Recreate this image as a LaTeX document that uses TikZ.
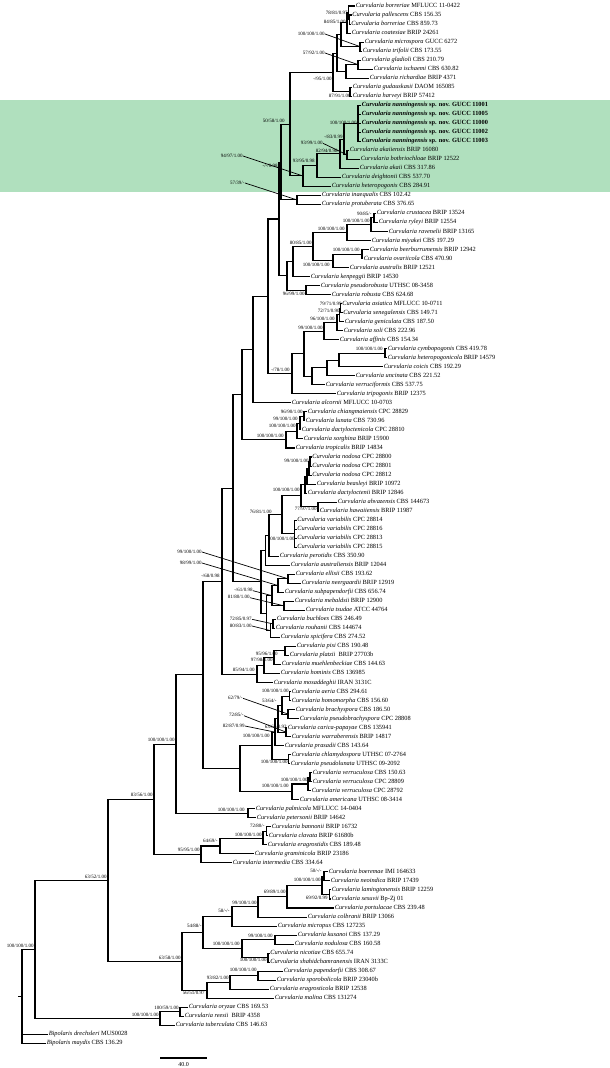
\documentclass[tikz,border=0pt]{standalone}
\usepackage{fontspec}
\setmainfont{Liberation Serif}
\usetikzlibrary{calc}
\definecolor{hl}{RGB}{176,224,190}
\tikzset{
 brl/.style={line width=1.05pt, line join=miter},
 leaf/.style={anchor=west, inner sep=0.6pt, font=\fontsize{6.35}{7}\selectfont, text height=4.3pt, text depth=1.3pt},
 sup/.style={anchor=east, inner sep=0.3pt, font=\fontsize{5}{6}\selectfont, text height=3.5pt, text depth=1pt},
 lead/.style={line width=0.7pt},
}
\newcommand\ty[1]{6+9.02*(#1-1)}
\newcommand\mk[4]{\path let \p1=(#3),\p2=(#4) in coordinate (#1) at (#2pt,{(\y1+\y2)/2});\draw[brl] (#3) -| (#1) |- (#4);}
\newcommand\cu[2]{\textit{Curvularia #1} #2}
\newcommand\nn[1]{\textbf{\textit{Curvularia nanningensis} sp. nov. GUCC #1}}
\begin{document}
\begin{tikzpicture}[x=1pt,y=-1pt]
\useasboundingbox (0,0) rectangle (610,1068);
\fill[hl] (0,100) rectangle (610,192);
% leaves
\node[leaf] (t1) at (355,{\ty{1}}) {\cu{borreriae}{MFLUCC 11-0422}};
\node[leaf] (t2) at (351.5,{\ty{2}}) {\cu{pallescens}{CBS 156.35}};
\node[leaf] (t3) at (350.5,{\ty{3}}) {\cu{borreriae}{CBS 859.73}};
\node[leaf] (t4) at (351,{\ty{4}}) {\cu{coatesiae}{BRIP 24261}};
\node[leaf] (t5) at (364,{\ty{5}}) {\cu{microspora}{GUCC 6272}};
\node[leaf] (t6) at (362,{\ty{6}}) {\cu{trifolii}{CBS 173.55}};
\node[leaf] (t7) at (361,{\ty{7}}) {\cu{gladioli}{CBS 210.79}};
\node[leaf] (t8) at (373,{\ty{8}}) {\cu{ischaemi}{CBS 630.82}};
\node[leaf] (t9) at (369,{\ty{9}}) {\cu{richardiae}{BRIP 4371}};
\node[leaf] (t10) at (352,{\ty{10}}) {\cu{gudauskasii}{DAOM 165085}};
\node[leaf] (t11) at (352,{\ty{11}}) {\cu{harveyi}{BRIP 57412}};
\node[leaf] (t12) at (361,{\ty{12}}) {\nn{11001}};
\node[leaf] (t13) at (361,{\ty{13}}) {\nn{11005}};
\node[leaf] (t14) at (361,{\ty{14}}) {\nn{11000}};
\node[leaf] (t15) at (361,{\ty{15}}) {\nn{11002}};
\node[leaf] (t16) at (361,{\ty{16}}) {\nn{11003}};
\node[leaf] (t17) at (349,{\ty{17}}) {\cu{akaiiensis}{BRIP 16080}};
\node[leaf] (t18) at (360,{\ty{18}}) {\cu{bothriochloae}{BRIP 12522}};
\node[leaf] (t19) at (359,{\ty{19}}) {\cu{akaii}{CBS 317.86}};
\node[leaf] (t20) at (341,{\ty{20}}) {\cu{deightonii}{CBS 537.70}};
\node[leaf] (t21) at (331,{\ty{21}}) {\cu{heteropogonis}{CBS 284.91}};
\node[leaf] (t22) at (321,{\ty{22}}) {\cu{inaequalis}{CBS 102.42}};
\node[leaf] (t23) at (321,{\ty{23}}) {\cu{protuberata}{CBS 376.65}};
\node[leaf] (t24) at (376,{\ty{24}}) {\cu{crustacea}{BRIP 13524}};
\node[leaf] (t25) at (378,{\ty{25}}) {\cu{ryleyi}{BRIP 12554}};
\node[leaf] (t26) at (388,{\ty{26}}) {\cu{ravenelii}{BRIP 13165}};
\node[leaf] (t27) at (371,{\ty{27}}) {\cu{miyakei}{CBS 197.29}};
\node[leaf] (t28) at (369,{\ty{28}}) {\cu{beerburrumensis}{BRIP 12942}};
\node[leaf] (t29) at (363,{\ty{29}}) {\cu{ovariicola}{CBS 470.90}};
\node[leaf] (t30) at (349,{\ty{30}}) {\cu{australis}{BRIP 12521}};
\node[leaf] (t31) at (310,{\ty{31}}) {\cu{kenpeggii}{BRIP 14530}};
\node[leaf] (t32) at (320,{\ty{32}}) {\cu{pseudorobusta}{UTHSC 08-3458}};
\node[leaf] (t33) at (331,{\ty{33}}) {\cu{robusta}{CBS 624.68}};
\node[leaf] (t34) at (341.5,{\ty{34}}) {\cu{asiatica}{MFLUCC 10-0711}};
\node[leaf] (t35) at (342.5,{\ty{35}}) {\cu{senegalensis}{CBS 149.71}};
\node[leaf] (t36) at (344,{\ty{36}}) {\cu{geniculata}{CBS 187.50}};
\node[leaf] (t37) at (343,{\ty{37}}) {\cu{soli}{CBS 222.96}};
\node[leaf] (t38) at (339,{\ty{38}}) {\cu{affinis}{CBS 154.34}};
\node[leaf] (t39) at (387,{\ty{39}}) {\cu{cymbopogonis}{CBS 419.78}};
\node[leaf] (t40) at (387,{\ty{40}}) {\cu{heteropogonicola}{BRIP 14579}};
\node[leaf] (t41) at (383,{\ty{41}}) {\cu{coicis}{CBS 192.29}};
\node[leaf] (t42) at (355,{\ty{42}}) {\cu{uncinata}{CBS 221.52}};
\node[leaf] (t43) at (325,{\ty{43}}) {\cu{verruciformis}{CBS 537.75}};
\node[leaf] (t44) at (336,{\ty{44}}) {\cu{tripogonis}{BRIP 12375}};
\node[leaf] (t45) at (291,{\ty{45}}) {\cu{alcornii}{MFLUCC 10-0703}};
\node[leaf] (t46) at (307,{\ty{46}}) {\cu{chiangmaiensis}{CPC 28829}};
\node[leaf] (t47) at (305,{\ty{47}}) {\cu{lunata}{CBS 730.96}};
\node[leaf] (t48) at (301,{\ty{48}}) {\cu{dactyloctenicola}{CPC 28810}};
\node[leaf] (t49) at (303,{\ty{49}}) {\cu{sorghina}{BRIP 15900}};
\node[leaf] (t50) at (295,{\ty{50}}) {\cu{tropicalis}{BRIP 14834}};
\node[leaf] (t51) at (311.5,{\ty{51}}) {\cu{nodosa}{CPC 28800}};
\node[leaf] (t52) at (311.5,{\ty{52}}) {\cu{nodosa}{CPC 28801}};
\node[leaf] (t53) at (311.5,{\ty{53}}) {\cu{nodosa}{CPC 28812}};
\node[leaf] (t54) at (316,{\ty{54}}) {\cu{beasleyi}{BRIP 10972}};
\node[leaf] (t55) at (307,{\ty{55}}) {\cu{dactyloctenii}{BRIP 12846}};
\node[leaf] (t56) at (337,{\ty{56}}) {\cu{ahvazensis}{CBS 144673}};
\node[leaf] (t57) at (319,{\ty{57}}) {\cu{hawaiiensis}{BRIP 11987}};
\node[leaf] (t58) at (296.5,{\ty{58}}) {\cu{variabilis}{CPC 28814}};
\node[leaf] (t59) at (296.5,{\ty{59}}) {\cu{variabilis}{CPC 28816}};
\node[leaf] (t60) at (296.5,{\ty{60}}) {\cu{variabilis}{CPC 28813}};
\node[leaf] (t61) at (296.5,{\ty{61}}) {\cu{variabilis}{CPC 28815}};
\node[leaf] (t62) at (279,{\ty{62}}) {\cu{perotidis}{CBS 350.90}};
\node[leaf] (t63) at (290,{\ty{63}}) {\cu{australiensis}{BRIP 12044}};
\node[leaf] (t64) at (295,{\ty{64}}) {\cu{ellisii}{CBS 193.62}};
\node[leaf] (t65) at (301,{\ty{65}}) {\cu{neergaardii}{BRIP 12919}};
\node[leaf] (t66) at (284,{\ty{66}}) {\cu{subpapendorfii}{CBS 656.74}};
\node[leaf] (t67) at (294,{\ty{67}}) {\cu{mebaldsii}{BRIP 12900}};
\node[leaf] (t68) at (305,{\ty{68}}) {\cu{tsudae}{ATCC 44764}};
\node[leaf] (t69) at (276,{\ty{69}}) {\cu{buchloes}{CBS 246.49}};
\node[leaf] (t70) at (275,{\ty{70}}) {\cu{rouhanii}{CBS 144674}};
\node[leaf] (t71) at (280,{\ty{71}}) {\cu{spicifera}{CBS 274.52}};
\node[leaf] (t72) at (296,{\ty{72}}) {\cu{pisi}{CBS 190.48}};
\node[leaf] (t73) at (289,{\ty{73}}) {\cu{platzii}{~BRIP 27703b}};
\node[leaf] (t74) at (281,{\ty{74}}) {\cu{muehlenbeckiae}{CBS 144.63}};
\node[leaf] (t75) at (280,{\ty{75}}) {\cu{hominis}{CBS 136985}};
\node[leaf] (t76) at (273,{\ty{76}}) {\cu{mosaddeghii}{IRAN 3131C}};
\node[leaf] (t77) at (291,{\ty{77}}) {\cu{aeria}{CBS 294.61}};
\node[leaf] (t78) at (291,{\ty{78}}) {\cu{homomorpha}{CBS 156.60}};
\node[leaf] (t79) at (295,{\ty{79}}) {\cu{brachyspora}{CBS 186.50}};
\node[leaf] (t80) at (299,{\ty{80}}) {\cu{pseudobrachyspora}{CPC 28808}};
\node[leaf] (t81) at (287,{\ty{81}}) {\cu{carica-papayae}{CBS 135941}};
\node[leaf] (t82) at (291,{\ty{82}}) {\cu{warraberensis}{BRIP 14817}};
\node[leaf] (t83) at (284,{\ty{83}}) {\cu{prasadii}{CBS 143.64}};
\node[leaf] (t84) at (291,{\ty{84}}) {\cu{chlamydospora}{UTHSC 07-2764}};
\node[leaf] (t85) at (290,{\ty{85}}) {\cu{pseudolunata}{UTHSC 09-2092}};
\node[leaf] (t86) at (312,{\ty{86}}) {\cu{verruculosa}{CBS 150.63}};
\node[leaf] (t87) at (312,{\ty{87}}) {\cu{verruculosa}{CPC 28809}};
\node[leaf] (t88) at (311,{\ty{88}}) {\cu{verruculosa}{CPC 28792}};
\node[leaf] (t89) at (299,{\ty{89}}) {\cu{americana}{UTHSC 08-3414}};
\node[leaf] (t90) at (255,{\ty{90}}) {\cu{palmicola}{MFLUCC 14-0404}};
\node[leaf] (t91) at (256,{\ty{91}}) {\cu{petersonii}{BRIP 14642}};
\node[leaf] (t92) at (271,{\ty{92}}) {\cu{bannonii}{BRIP 16732}};
\node[leaf] (t93) at (268,{\ty{93}}) {\cu{clavata}{BRIP 61680b}};
\node[leaf] (t94) at (267,{\ty{94}}) {\cu{eragrostidis}{CBS 189.48}};
\node[leaf] (t95) at (254,{\ty{95}}) {\cu{graminicola}{BRIP 23186}};
\node[leaf] (t96) at (232,{\ty{96}}) {\cu{intermedia}{CBS 334.64}};
\node[leaf] (t97) at (328,{\ty{97}}) {\cu{boeremae}{IMI 164633}};
\node[leaf] (t98) at (330,{\ty{98}}) {\cu{neoindica}{BRIP 17439}};
\node[leaf] (t99) at (331,{\ty{99}}) {\cu{lamingtonensis}{BRIP 12259}};
\node[leaf] (t100) at (331,{\ty{100}}) {\cu{sesuvii}{Bp-Zj 01}};
\node[leaf] (t101) at (334,{\ty{101}}) {\cu{portulacae}{CBS 239.48}};
\node[leaf] (t102) at (307,{\ty{102}}) {\cu{colbranii}{BRIP 13066}};
\node[leaf] (t103) at (277,{\ty{103}}) {\cu{micropus}{CBS 127235}};
\node[leaf] (t104) at (297,{\ty{104}}) {\cu{kusanoi}{CBS 137.29}};
\node[leaf] (t105) at (294,{\ty{105}}) {\cu{nodulosa}{CBS 160.58}};
\node[leaf] (t106) at (269.5,{\ty{106}}) {\cu{nicotiae}{CBS 655.74}};
\node[leaf] (t107) at (269.5,{\ty{107}}) {\cu{shahidchamranensis}{IRAN 3133C}};
\node[leaf] (t108) at (283,{\ty{108}}) {\cu{papendorfii}{CBS 308.67}};
\node[leaf] (t109) at (276,{\ty{109}}) {\cu{sporobolicola}{BRIP 23040b}};
\node[leaf] (t110) at (269,{\ty{110}}) {\cu{eragrosticola}{BRIP 12538}};
\node[leaf] (t111) at (274,{\ty{111}}) {\cu{malina}{CBS 131274}};
\node[leaf] (t112) at (188,{\ty{112}}) {\cu{oryzae}{CBS 169.53}};
\node[leaf] (t113) at (184,{\ty{113}}) {\cu{reesii}{~BRIP 4358}};
\node[leaf] (t114) at (175,{\ty{114}}) {\cu{tuberculata}{CBS 146.63}};
\node[leaf] (t115) at (48,{\ty{115}}) {\textit{Bipolaris drechsleri} MUS0028};
\node[leaf] (t116) at (46,{\ty{116}}) {\textit{Bipolaris maydis} CBS 136.29};
% internal nodes
\mk{a1}{349.5}{t2.west}{t3.west}
\mk{a2}{348.8}{t1.west}{a1}
\mk{a3}{347}{a2}{t4.west}
\mk{a4}{360}{t5.west}{t6.west}
\mk{a5}{341}{a3}{a4}
\mk{a6}{358}{t7.west}{t8.west}
\mk{a8}{346}{a6}{t9.west}
\mk{a9}{337}{a5}{a8}
\mk{a7}{350}{t10.west}{t11.west}
\mk{a10}{333}{a9}{a7}
\mk{g1}{358}{t12.west}{t16.west}
\draw[brl] (g1) |- (t13.west) (g1) |- (t14.west) (g1) |- (t15.west);
\mk{g2}{347}{t17.west}{t18.west}
\mk{g3}{344}{g1}{g2}
\mk{g4}{340}{g3}{t19.west}
\mk{g5}{317}{g4}{t20.west}
\mk{g6}{303}{g5}{t21.west}
\mk{e1}{290}{a10}{g6}
\mk{i1}{297}{t22.west}{t23.west}
\mk{i2}{281}{e1}{i1}
\mk{z1}{374}{t24.west}{t25.west}
\mk{z2}{371}{z1}{t26.west}
\mk{z3}{347}{z2}{t27.west}
\mk{z4}{362}{t28.west}{t29.west}
\mk{z5}{333}{z4}{t30.west}
\mk{z6}{313}{z3}{z5}
\mk{z7}{293}{z6}{t31.west}
\mk{z8}{306}{t32.west}{t33.west}
\mk{z9}{287}{z7}{z8}
\mk{x1}{279}{i2}{z9}
\mk{y1}{340.3}{t34.west}{t35.west}
\mk{y2}{339.5}{y1}{t36.west}
\mk{y3}{337}{y2}{t37.west}
\mk{y4}{324}{y3}{t38.west}
\mk{w1}{385}{t39.west}{t40.west}
\mk{w2}{339}{w1}{t41.west}
\mk{w3}{327}{w2}{t42.west}
\mk{w4}{312}{w3}{t43.west}
\mk{w5}{304}{y4}{w4}
\mk{w6}{292}{w5}{t44.west}
\mk{k1}{268}{x1}{w6}
\mk{l1}{253}{k1}{t45.west}
\mk{c1}{304}{t46.west}{t47.west}
\mk{c2}{300}{c1}{t48.west}
\mk{c3}{297}{c2}{t49.west}
\mk{c4}{286}{c3}{t50.west}
\mk{m1}{242}{l1}{c4}
\mk{n1}{310}{t51.west}{t52.west}
\mk{n2}{309}{n1}{t53.west}
\mk{n3}{307}{n2}{t54.west}
\mk{n4}{305}{n3}{t55.west}
\mk{n5}{318}{t56.west}{t57.west}
\mk{n6}{301}{n4}{n5}
\mk{n7}{294.8}{t58.west}{t61.west}
\draw[brl] (n7) |- (t59.west) (n7) |- (t60.west);
\mk{n8}{282}{n6}{n7}
\mk{n9}{269}{n8}{t62.west}
\mk{n10}{265.5}{n9}{t63.west}
\mk{f1}{288}{t64.west}{t65.west}
\mk{f2}{278}{f1}{t66.west}
\mk{f3}{284}{t67.west}{t68.west}
\mk{f4}{272}{f2}{f3}
\mk{f5}{273}{t69.west}{t70.west}
\mk{f6}{270.5}{f5}{t71.west}
\mk{f7}{266.5}{f4}{f6}
\mk{n11}{261}{n10}{f7}
\mk{n12}{233}{m1}{n11}
\mk{p1}{285}{t72.west}{t73.west}
\mk{p2}{274}{p1}{t74.west}
\mk{p3}{264}{p2}{t75.west}
\mk{p4}{257}{p3}{t76.west}
\mk{o1}{222}{n12}{p4}
\mk{q1}{289.5}{t77.west}{t78.west}
\mk{q2}{288}{t79.west}{t80.west}
\mk{q3}{282}{q1}{q2}
\mk{q4}{286}{t81.west}{t82.west}
\mk{q5}{278}{q3}{q4}
\mk{q6}{275}{q5}{t83.west}
\mk{q8}{288.5}{t84.west}{t85.west}
\mk{q7}{272}{q6}{q8}
\mk{v1}{310}{t86.west}{t87.west}
\mk{v2}{308}{v1}{t88.west}
\mk{v3}{292}{v2}{t89.west}
\mk{s1}{240}{q7}{v3}
\mk{p5}{203}{o1}{s1}
\mk{h1}{248}{t90.west}{t91.west}
\mk{p6}{176}{p5}{h1}
\mk{b1}{266.5}{t92.west}{t93.west}
\mk{b2}{263}{b1}{t94.west}
\mk{b3}{220}{b2}{t95.west}
\mk{b4}{201}{b3}{t96.west}
\mk{p7}{154}{p6}{b4}
\mk{d1}{324}{t97.west}{t98.west}
\mk{d2}{329.5}{t99.west}{t100.west}
\mk{d3}{322}{d1}{d2}
\mk{d4}{287}{d3}{t101.west}
\mk{d5}{258}{d4}{t102.west}
\mk{d6}{232}{d5}{t103.west}
\mk{d7}{275}{t104.west}{t105.west}
\mk{d8}{268}{t106.west}{t107.west}
\mk{d9}{242}{d7}{d8}
\mk{d10}{203}{d6}{d9}
\mk{d11}{258}{t108.west}{t109.west}
\mk{d12}{230}{d11}{t110.west}
\mk{d13}{207}{d12}{t111.west}
\mk{p8}{182}{d10}{d13}
\mk{p9}{108}{p7}{p8}
\mk{r1}{180}{t112.west}{t113.west}
\mk{r2}{160}{r1}{t114.west}
\mk{r3}{35}{p9}{r2}
\mk{r4}{22}{r3}{t116.west}
\draw[brl] (r4) |- (t115.west);
\coordinate (rs) at ($(r4)+(-4,0)$);
\draw[brl] (r4) -- (rs);
% support labels
\node[sup] (s1) at (348,13) {78/81/0.97};
\node[sup] (s2) at (346,22) {84/85/1.00};
\node[sup] (s3) at (325,34) {100/100/1.00};
\draw[lead] (s3.east) -- (a4);
\node[sup] (s4) at (325,53) {57/92/1.00};
\draw[lead] (s4.east) -- (a6);
\node[sup] (s5) at (332,79) {-/95/1.00};
\node[sup] (s6) at (351,96.5) {87/91/1.00};
\node[sup] (s7) at (357,123) {100/100/1.00};
\node[sup] (s8) at (343,137.7) {-/83/0.99};
\node[sup] (s9) at (323,143.3) {93/99/1.00};
\draw[lead] (s9.east) -- (g2);
\node[sup] (s10) at (338,151) {82/94/0.98};
\node[sup] (s11) at (315,161.7) {93/95/0.98};
\node[sup] (s12) at (243,156) {94/97/1.00};
\draw[lead] (s12.east) -- (g6);
\node[sup] (s13) at (285,121.7) {50/58/1.00};
\node[sup] (s14) at (278,166.7) {-/-/0.98};
\node[sup] (s15) at (245,183) {57/39/-};
\draw[lead] (s15.east) -- (i1);
\node[sup] (s16) at (372,214) {90/85/-};
\node[sup] (s17) at (370,221.7) {100/100/1.00};
\node[sup] (s18) at (345,229.3) {100/100/1.00};
\node[sup] (s19) at (312,243.3) {80/85/1.00};
\node[sup] (s20) at (360,250.7) {100/100/1.00};
\node[sup] (s21) at (330,265) {100/100/1.00};
\node[sup] (s22) at (305,294.3) {96/99/1.00};
\node[sup] (s23) at (342,304.3) {79/71/0.99};
\node[sup] (s24) at (340,311.7) {72/71/0.90};
\node[sup] (s25) at (335,319.3) {96/100/1.00};
\node[sup] (s26) at (323,328.3) {99/100/1.00};
\node[sup] (s27) at (383,349.3) {100/100/1.00};
\node[sup] (s28) at (290,370) {-/78/1.00};
\node[sup] (s29) at (303,412.3) {96/90/1.00};
\node[sup] (s30) at (298,419.3) {99/100/1.00};
\node[sup] (s31) at (296,426) {100/100/1.00};
\node[sup] (s32) at (284,436) {100/100/1.00};
\node[sup] (s33) at (309,461.7) {99/100/1.00};
\node[sup] (s34) at (300,490.7) {100/100/1.00};
\node[sup] (s35) at (317,509.3) {77/97/1.00};
\node[sup] (s36) at (272,512.3) {76/81/1.00};
\node[sup] (s37) at (295,539.3) {100/100/1.00};
\node[sup] (s38) at (202,552) {99/100/1.00};
\draw[lead] (s38.east) -- (f1);
\node[sup] (s39) at (202,563) {98/99/1.00};
\draw[lead] (s39.east) -- (f2);
\node[sup] (s40) at (220,576.7) {-/68/0.98};
\node[sup] (s41) at (253,590.7) {-/61/0.98};
\draw[lead] (s41.east) -- (f4);
\node[sup] (s42) at (250,597.7) {81/80/1.00};
\draw[lead] (s42.east) -- (f3);
\node[sup] (s43) at (252,619.3) {72/85/0.97};
\draw[lead] (s43.east) -- (f5);
\node[sup] (s44) at (252,626) {80/83/1.00};
\draw[lead] (s44.east) -- (f6);
\node[sup] (s45) at (278,654) {95/96/1.00};
\node[sup] (s46) at (273,660.7) {97/98/1.00};
\node[sup] (s47) at (255,670) {85/94/1.00};
\node[sup] (s48) at (289,691) {100/100/1.00};
\node[sup] (s49) at (243,698.3) {62/79/-};
\draw[lead] (s49.east) -- (q2);
\node[sup] (s50) at (277,701) {53/64/-};
\node[sup] (s51) at (244,715.7) {72/85/-};
\draw[lead] (s51.east) -- (q4);
\node[sup] (s52) at (287,727.3) {63/69/0.92};
\node[sup] (s53) at (245,726) {82/87/0.99};
\draw[lead] (s53.east) -- (q6);
\node[sup] (s54) at (270,736.7) {100/100/1.00};
\node[sup] (s55) at (288,762.7) {100/100/1.00};
\node[sup] (s56) at (308,780) {100/100/1.00};
\node[sup] (s57) at (289,786.7) {100/100/1.00};
\node[sup] (s58) at (245,810) {100/100/1.00};
\node[sup] (s59) at (265,826.7) {72/80/-};
\node[sup] (s60) at (262,835) {100/100/1.00};
\node[sup] (s61) at (218,841) {64/69/-};
\node[sup] (s62) at (200,850.5) {95/95/1.00};
\node[sup] (s63) at (322,871) {50/-/-};
\node[sup] (s64) at (321,880.7) {100/100/1.00};
\node[sup] (s65) at (286,892.7) {69/89/1.00};
\node[sup] (s66) at (328,898.3) {69/92/0.99};
\node[sup] (s67) at (257,903.3) {99/100/1.00};
\node[sup] (s68) at (230,911.7) {58/-/-};
\node[sup] (s69) at (202,926.7) {54/88/-};
\node[sup] (s70) at (273,936) {99/100/1.00};
\node[sup] (s71) at (240,944.3) {100/100/1.00};
\node[sup] (s72) at (267,960) {100/100/1.00};
\node[sup] (s73) at (257,970.7) {100/100/1.00};
\node[sup] (s74) at (229,978.3) {93/82/1.00};
\node[sup] (s75) at (205,993) {56/51/0.97};
\node[sup,anchor=south east] (s76) at ($(p6)+(-1,-0.8)$) {100/100/1.00};
\node[sup,anchor=south east] (s77) at ($(p7)+(-1,-0.8)$) {83/56/1.00};
\node[sup,anchor=south east] (s78) at ($(p9)+(-1,-0.8)$) {63/52/1.00};
\node[sup,anchor=south east] (s79) at ($(p8)+(-1,-0.8)$) {63/58/1.00};
\node[sup,anchor=south east] (s80) at ($(r3)+(-1,-0.8)$) {100/100/1.00};
\node[sup,anchor=south east] (s81) at ($(r1)+(-1,-0.8)$) {100/59/1.00};
\node[sup,anchor=south east] (s82) at ($(r2)+(-1,-0.8)$) {100/100/1.00};
% scale bar
\coordinate (sb1) at (160,1058);
\coordinate (sb2) at (207,1058);
\draw[brl] (sb1) -- (sb2);
\node[font=\fontsize{6}{7}\selectfont, inner sep=0.5pt] (sbl) at (183.5,1064.5) {40.0};
\end{tikzpicture}
\end{document}
